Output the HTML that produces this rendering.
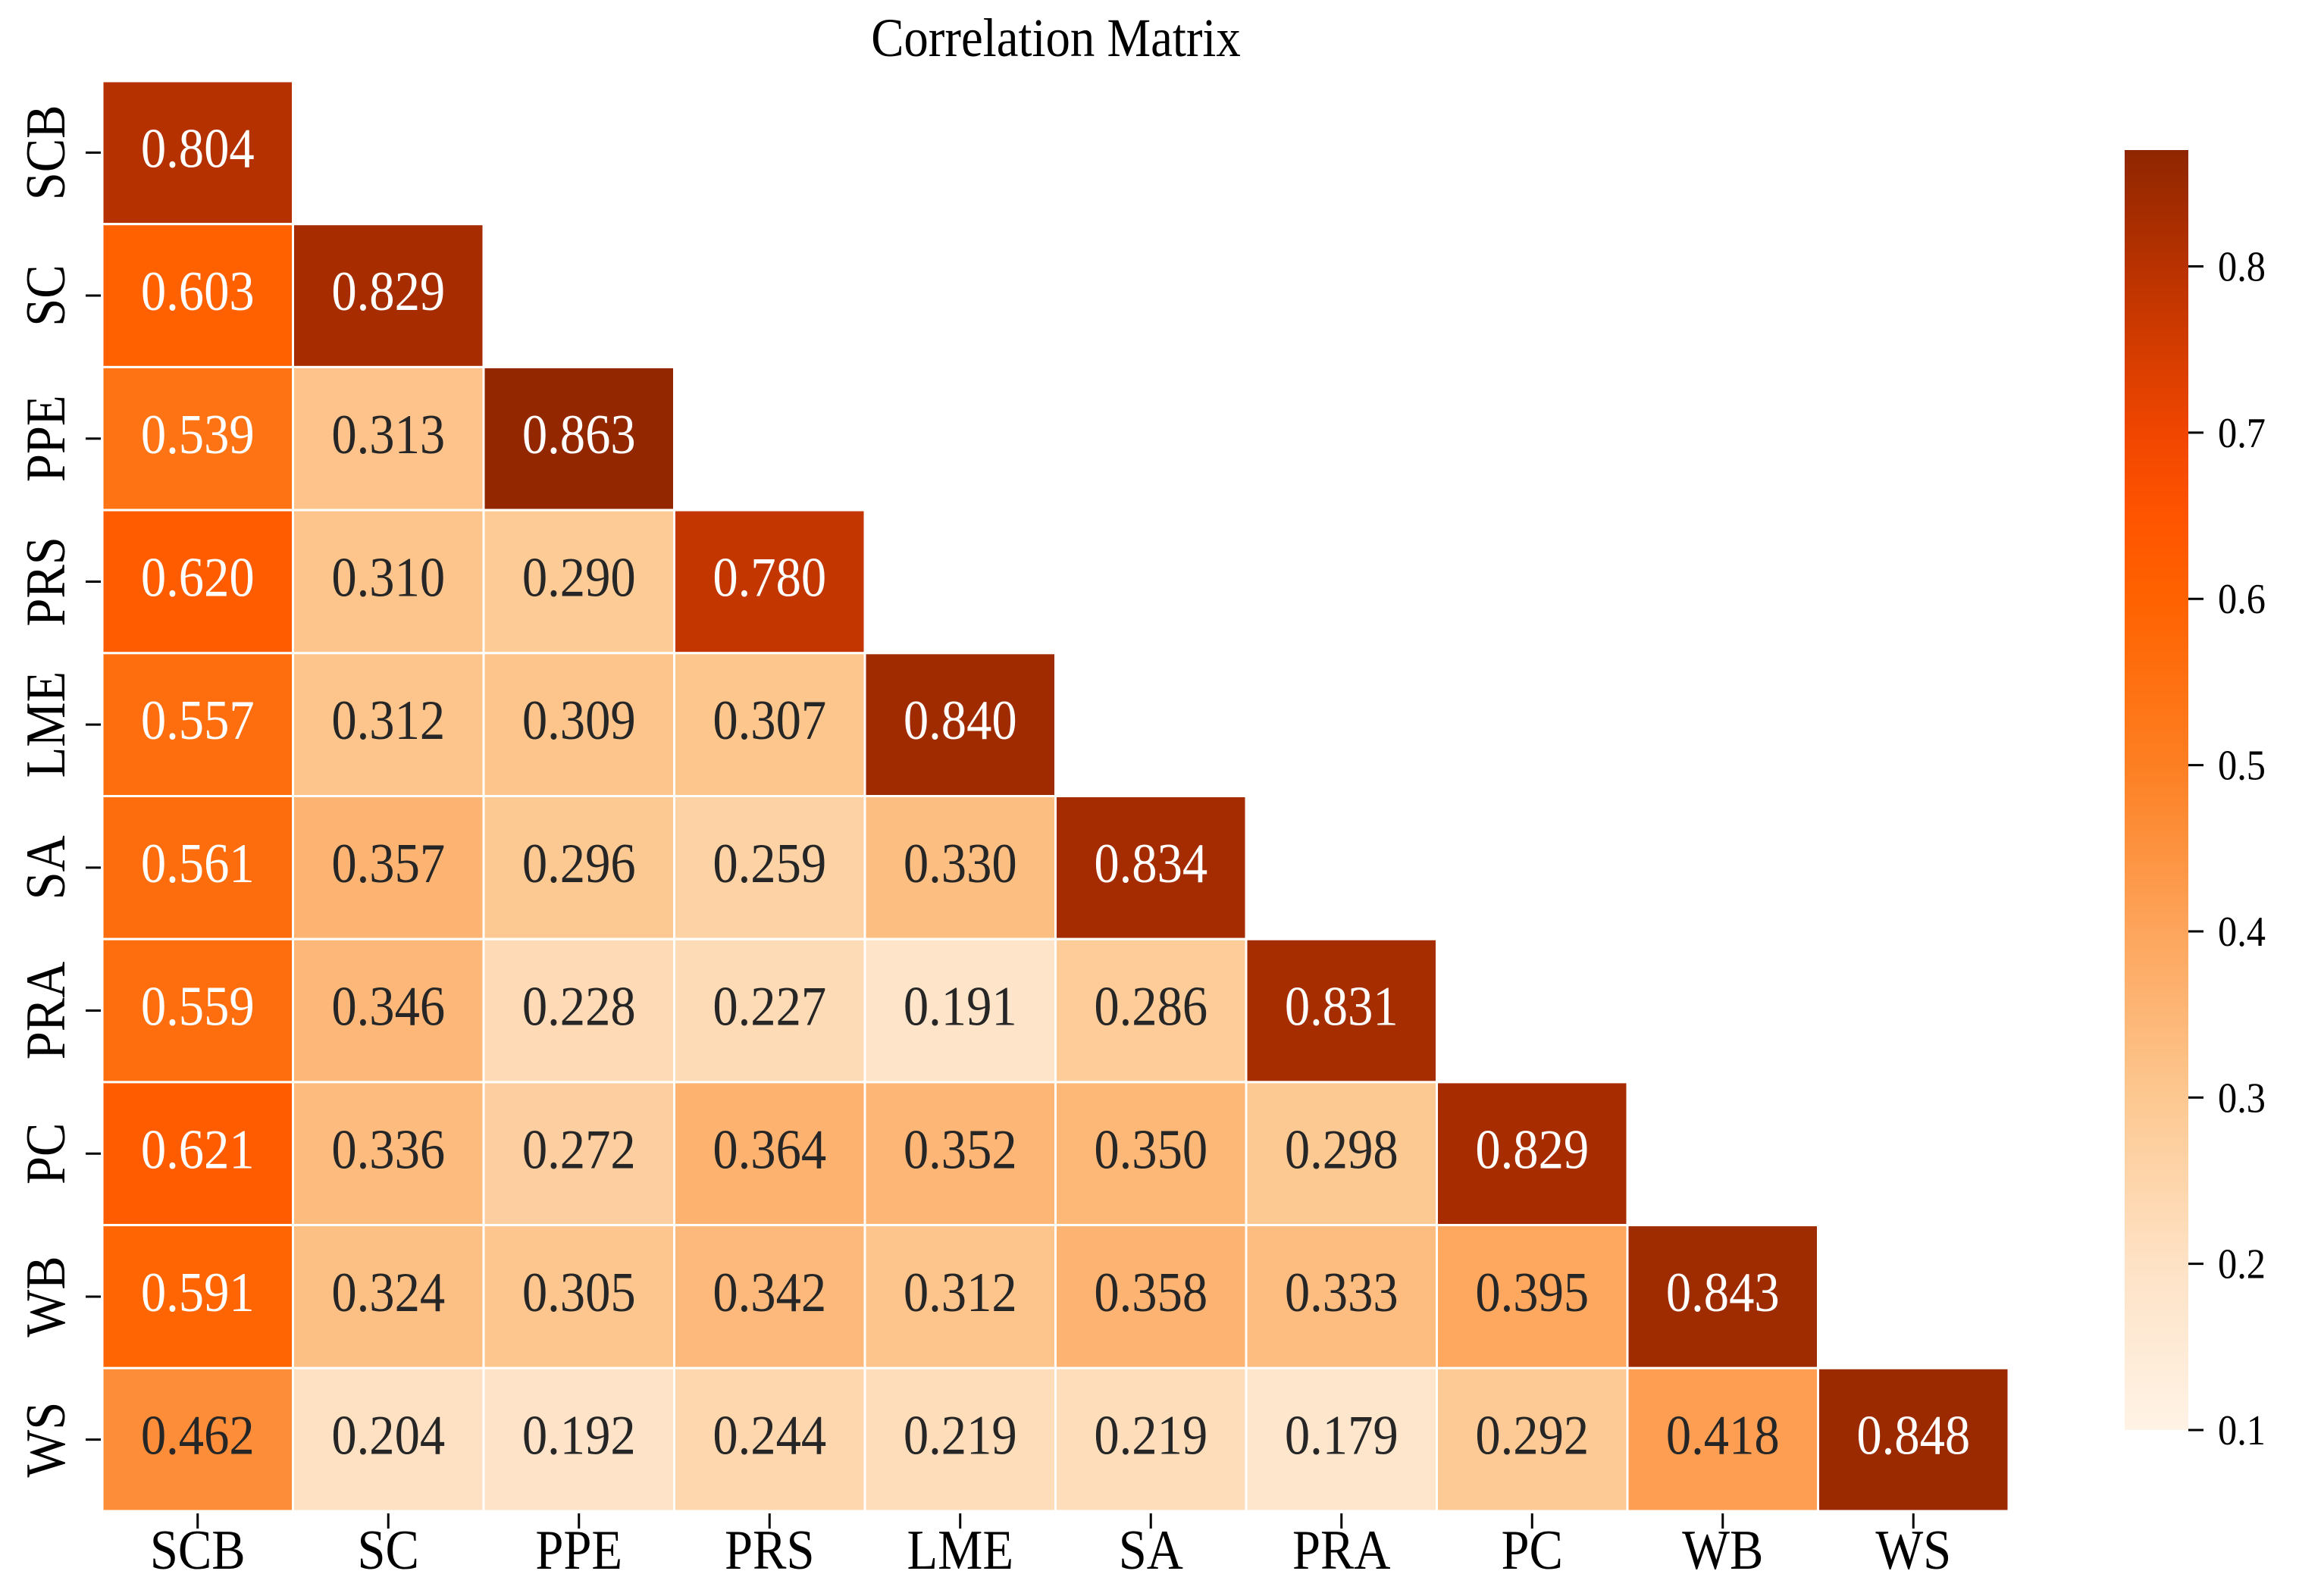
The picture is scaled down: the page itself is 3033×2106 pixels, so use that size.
<!DOCTYPE html>
<html><head><meta charset="utf-8"><style>
html,body{margin:0;padding:0;background:#fff;}
svg{display:block;font-family:"Liberation Serif","Times New Roman",serif;}
</style></head><body>
<svg id="chart" width="3033" height="2106" viewBox="0 0 3033 2106" xmlns="http://www.w3.org/2000/svg">
<text x="0" y="0" transform="translate(1393,74) scale(0.9,1)" font-size="72" text-anchor="middle" fill="#000">Correlation Matrix</text>
<g id="cells"></g>
<g id="axes"></g>
<defs><linearGradient id="cbgrad" x1="0" y1="1" x2="0" y2="0"></linearGradient></defs>
<g id="cbar"></g>
</svg>
<script>
const labels = ["SCB","SC","PPE","PRS","LME","SA","PRA","PC","WB","WS"];
const row0 = [0.804];
const row1 = [0.603,0.829];
const row2 = [0.539,0.313,0.863];
const row3 = [0.620,0.310,0.290,0.780];
const row4 = [0.557,0.312,0.309,0.307,0.840];
const row5 = [0.561,0.357,0.296,0.259,0.330,0.834];
const row6 = [0.559,0.346,0.228,0.227,0.191,0.286,0.831];
const row7 = [0.621,0.336,0.272,0.364,0.352,0.350,0.298,0.829];
const row8 = [0.591,0.324,0.305,0.342,0.312,0.358,0.333,0.395,0.843];
const row9 = [0.462,0.204,0.192,0.244,0.219,0.219,0.179,0.292,0.418,0.848];
const rows = [row0,row1,row2,row3,row4,row5,row6,row7,row8,row9];
const cbTicks = [0.1,0.2,0.3,0.4,0.5,0.6,0.7,0.8];
const vmin = 0.1, vmax = 0.87;
const stopVals = [0.1,0.2,0.3,0.4,0.5,0.6,0.65,0.7,0.75,0.8,0.87];
const stopCols = ["#fff3e6","#fee2c5","#fdc891","#fda55c","#fd7f22","#ff6200","#ff5400","#f04600","#d43c00","#b83200","#8f2600"];

const NS="http://www.w3.org/2000/svg";
const L=135, T=107, CW=251.5, CH=188.7, N=labels.length;
const xPos = i => L + i*CW;
const yPos = i => T + i*CH;
const CB_X=2803, CB_W=84, CB_TOP=198, CB_BOT=1887;
const cbY = v => CB_BOT - (v-vmin)/(vmax-vmin)*(CB_BOT-CB_TOP);

function hex2rgb(h){return [1,3,5].map(i=>parseInt(h.substr(i,2),16));}
function color(v){
  if(v<=stopVals[0]) return stopCols[0];
  for(let i=1;i<stopVals.length;i++){
    if(v<=stopVals[i]){
      const t=(v-stopVals[i-1])/(stopVals[i]-stopVals[i-1]);
      const a=hex2rgb(stopCols[i-1]), b=hex2rgb(stopCols[i]);
      return "rgb("+a.map((c,k)=>Math.round(c+(b[k]-c)*t)).join(",")+")";
    }
  }
  return stopCols[stopCols.length-1];
}
function mk(tag,attrs,parent){const e=document.createElementNS(NS,tag);for(const k in attrs)e.setAttribute(k,attrs[k]);parent.appendChild(e);return e;}

const cells=document.getElementById('cells');
rows.forEach((r,i)=>{
  r.forEach((v,j)=>{
    const rect=mk('rect',{x:xPos(j),y:yPos(i),width:CW,height:CH,fill:color(v),stroke:"#fff","stroke-width":3},cells);
    
    
    const t=mk('text',{x:0,y:0,transform:"translate("+(xPos(j)+CW/2)+","+(yPos(i)+CH/2+19)+") scale(0.9,1)","font-size":74,"text-anchor":"middle",fill:(v>0.5?"#fff":"#262626")},cells);
    t.textContent=v.toFixed(3);
    
    
  });
});

const axes=document.getElementById('axes');
labels.forEach((lab,i)=>{
  const cy=yPos(i)+CH/2;
  const tk=mk('line',{x1:113,x2:133,y1:cy,y2:cy,stroke:"#000","stroke-width":3},axes);
  
  
  const t=mk('text',{x:0,y:0,"font-size":74,"text-anchor":"middle",transform:"translate(85,"+cy+") rotate(-90) scale(0.9,1)"},axes);
  t.textContent=lab;
  
  
  const cx=xPos(i)+CW/2;
  const tx=mk('line',{x1:cx,x2:cx,y1:1997,y2:2017,stroke:"#000","stroke-width":3},axes);
  
  
  const xt=mk('text',{x:0,y:0,transform:"translate("+cx+",2070) scale(0.9,1)","font-size":74,"text-anchor":"middle"},axes);
  xt.textContent=lab;
  
  
});

const grad=document.getElementById('cbgrad');
stopVals.forEach((v,k)=>{
  mk('stop',{offset:((v-vmin)/(vmax-vmin)*100).toFixed(2)+"%","stop-color":stopCols[k]},grad);
});
const cbar=document.getElementById('cbar');
const bar=mk('rect',{x:CB_X,y:CB_TOP,width:CB_W,height:CB_BOT-CB_TOP,fill:"url(#cbgrad)"},cbar);


cbTicks.forEach(v=>{
  const y=cbY(v);
  const l=mk('line',{x1:CB_X+CB_W,x2:CB_X+CB_W+20,y1:y,y2:y,stroke:"#000","stroke-width":3},cbar);
  
  
  const t=mk('text',{x:0,y:0,transform:"translate(2926,"+(y+19)+") scale(0.9,1)","font-size":56},cbar);
  t.textContent=v.toFixed(1);
  
  
});
</script>
</body></html>
